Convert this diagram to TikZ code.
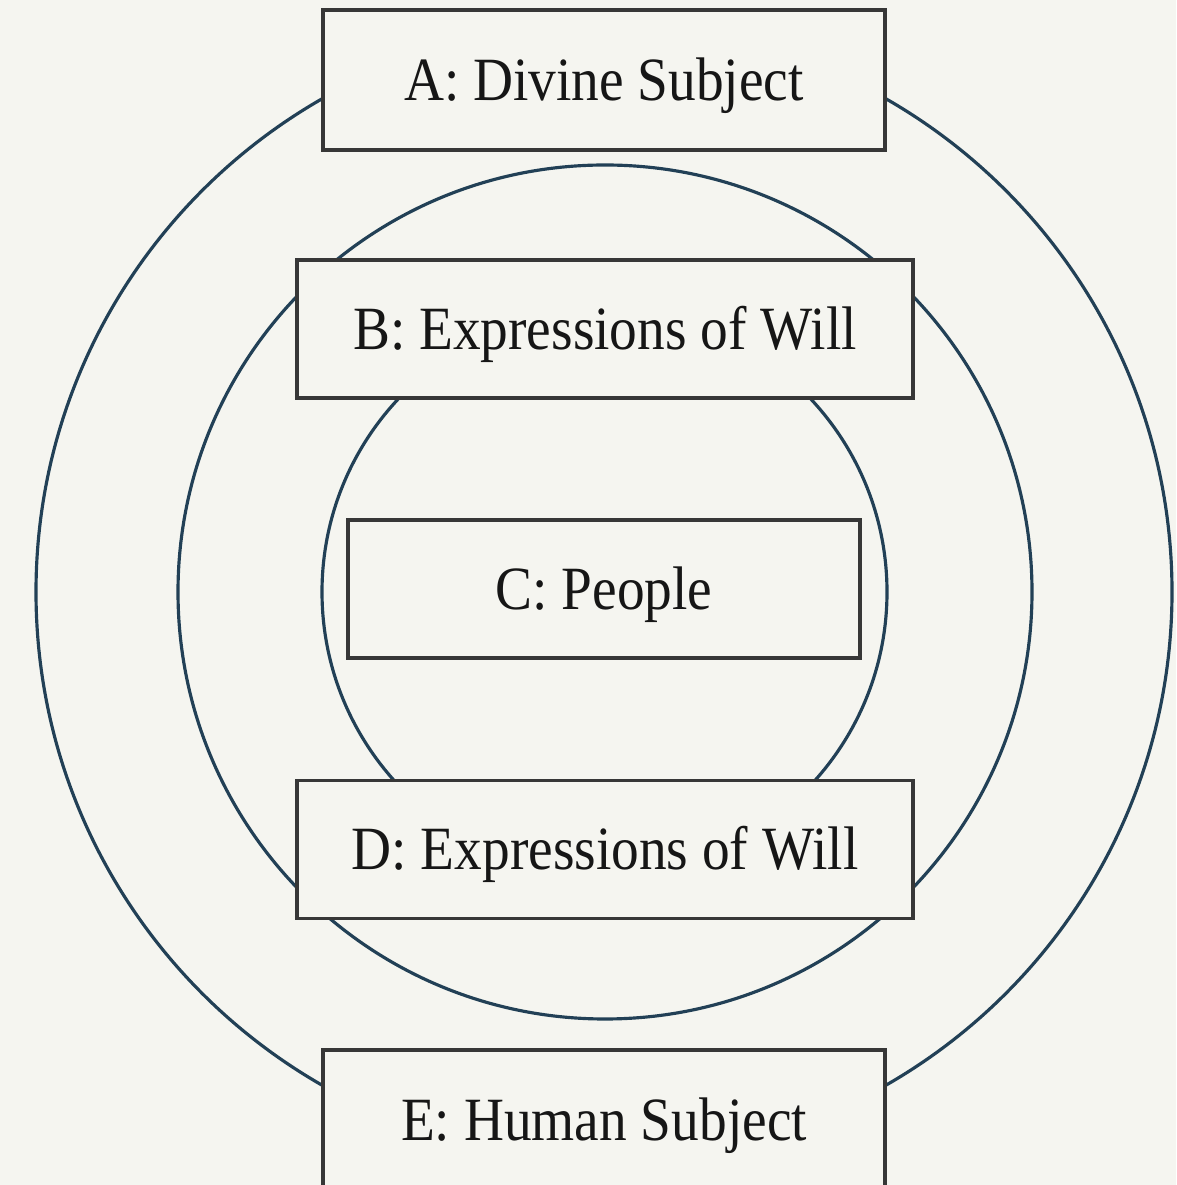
\documentclass[tikz,border=0pt]{standalone}
\usepackage{fontspec}
\setmainfont{Liberation Serif}[FakeStretch=0.9]
\definecolor{paper}{RGB}{245,245,240}
\definecolor{ringblue}{RGB}{34,64,86}
\definecolor{boxgray}{RGB}{55,55,55}
\definecolor{ink}{RGB}{22,22,22}

\begin{document}
\begin{tikzpicture}[
		ring/.style={draw=ringblue,line width=1.8pt},
		namebox/.style={draw=boxgray,line width=2pt,fill=paper,rectangle,inner sep=0pt,text=ink,font=\fontsize{35}{42}\selectfont,text height=0.82cm,text depth=0pt},
		widebox/.style={namebox,minimum width=12.32cm,minimum height=2.76cm},
		subjbox/.style={namebox,minimum width=11.24cm,minimum height=2.8cm}]
		\fill[paper] (0,0) rectangle (23.52,23.70);
		\useasboundingbox (0,0) rectangle (23.52,23.70);
		\draw[ring] (12.08,11.86) circle[radius=11.36];
		\draw[ring] (12.10,11.86) circle[radius=8.54];
		\draw[ring] (12.09,11.86) circle[radius=5.65];
		\node[subjbox] (divine) at (12.08,22.10) {A: Divine Subject};
		\node[widebox] (willtop) at (12.10,17.12) {B: Expressions of Will};
		\node[namebox,minimum width=10.24cm,minimum height=2.76cm] (people) at (12.08,11.92) {C: People};
		\node[widebox] (willbot) at (12.10,6.71) {D: Expressions of Will};
		\node[subjbox] (human) at (12.08,1.30) {E: Human Subject};
	\end{tikzpicture}
\end{document}
